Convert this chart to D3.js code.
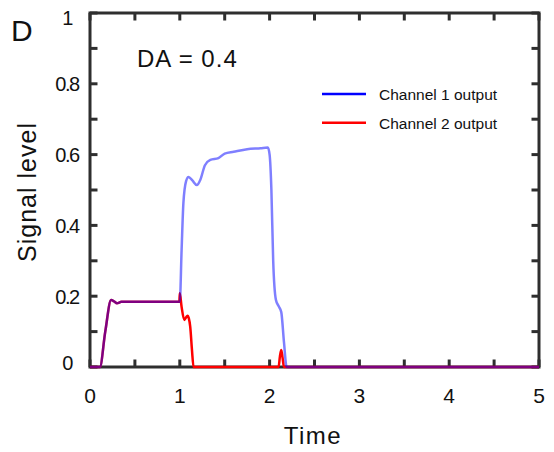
<!DOCTYPE html>
<html>
<head>
<meta charset="utf-8">
<script src="https://cdn.jsdelivr.net/npm/d3@7"></script>
<style>
  body { margin: 0; background: #fff; }
  text { font-family: "Liberation Sans", Arial, sans-serif; fill: #111; }
</style>
</head>
<body>
<div id="chart"></div>
<script>
// values
let ch1Time = [0, 0.11, 0.17, 0.235, 0.27, 0.3, 0.35, 0.5, 0.8, 1.0, 1.02, 1.04, 1.07, 1.097, 1.14, 1.19, 1.23, 1.28, 1.34, 1.43, 1.5, 1.6, 1.75, 1.9, 1.98, 2.0, 2.02, 2.04, 2.07, 2.1, 2.13, 2.16, 2.19, 2.5, 3, 4, 5];
let ch1Value = [0, 0, 0.1, 0.189, 0.185, 0.18, 0.184, 0.184, 0.184, 0.184, 0.33, 0.463, 0.525, 0.537, 0.527, 0.514, 0.53, 0.57, 0.585, 0.59, 0.603, 0.608, 0.615, 0.618, 0.62, 0.6, 0.5, 0.3, 0.19, 0.172, 0.155, 0.07, 0, 0, 0, 0, 0];
let ch2Time = [0, 0.11, 0.17, 0.235, 0.27, 0.3, 0.35, 0.5, 0.8, 0.995, 1.0, 1.02, 1.05, 1.07, 1.086, 1.1, 1.116, 1.135, 1.153, 1.5, 2.1, 2.115, 2.13, 2.145, 2.16, 2.5, 3, 4, 5];
let ch2Value = [0, 0, 0.1, 0.189, 0.185, 0.18, 0.184, 0.184, 0.184, 0.184, 0.208, 0.17, 0.133, 0.14, 0.145, 0.138, 0.114, 0.05, 0, 0, 0, 0.03, 0.048, 0.025, 0, 0, 0, 0, 0];
let xTicks = [0, 1, 2, 3, 4, 5];
let xMinor = [0, 0.5, 1, 1.5, 2, 2.5, 3, 3.5, 4, 4.5, 5];
let yTicks = [0, 0.2, 0.4, 0.6, 0.8, 1];
let yMinor = [0, 0.1, 0.2, 0.3, 0.4, 0.5, 0.6, 0.7, 0.8, 0.9, 1];
let seriesNames = ["Channel 1 output", "Channel 2 output"];

let margin = { top: 13, left: 90 },
    w = 449,
    h = 354;

let svg = d3.select("#chart")
    .append("svg")
    .attr("width", 554)
    .attr("height", 452);

let g = svg.append("g")
    .attr("transform", "translate(" + margin.left + "," + margin.top + ")");

let x = d3.scaleLinear().domain([0, 5]).range([0, w]);
let y = d3.scaleLinear().domain([0, 1]).range([h, 0]);

// inward ticks on all four sides
let tickLen = 7.5;
let axisColor = "#2e2e2e";
let tickG = g.append("g");
function ticks(cls, data, x1, x2, y1, y2) {
    tickG.selectAll("line." + cls).data(data).enter().append("line")
        .attr("class", cls)
        .attr("x1", x1).attr("x2", x2)
        .attr("y1", y1).attr("y2", y2)
        .style("stroke", axisColor)
        .style("stroke-width", "3px");
}
ticks("xb", xMinor, d => x(d), d => x(d), h, h - tickLen);
ticks("xt", xMinor, d => x(d), d => x(d), 0, tickLen);
ticks("yl", yMinor, 0, tickLen, d => y(d), d => y(d));
ticks("yr", yMinor, w, w - tickLen, d => y(d), d => y(d));

g.append("rect")
    .attr("x", 0).attr("y", 0)
    .attr("width", w).attr("height", h)
    .attr("fill", "none")
    .attr("stroke", axisColor)
    .attr("stroke-width", 3);

// tick labels
g.selectAll(".xl").data(xTicks).enter().append("text")
    .attr("x", d => x(d))
    .attr("y", h + 36)
    .attr("text-anchor", "middle")
    .style("font-size", "21px")
    .text(d => d);
g.selectAll(".ylab").data(yTicks).enter().append("text")
    .attr("x", -23)
    .attr("y", d => y(d) + (d === 0 ? 2.5 : d === 1 ? 12 : 7.5))
    .attr("text-anchor", "middle")
    .style("font-size", "20px")
    .style("letter-spacing", "-1.5px")
    .text(d => d);

// lines
let line = d3.line()
    .x(d => x(d[0]))
    .y(d => y(d[1]))
    .curve(d3.curveMonotoneX);

g.append("path")
    .datum(d3.zip(ch2Time, ch2Value))
    .attr("d", line)
    .attr("fill", "none")
    .attr("stroke", "#ff0000")
    .attr("stroke-width", 2.5);

g.append("path")
    .datum(d3.zip(ch1Time, ch1Value))
    .attr("d", line)
    .attr("fill", "none")
    .attr("stroke", "#0000ff")
    .attr("stroke-opacity", 0.5)
    .attr("stroke-width", 2.5);

// titles
svg.append("text")
    .attr("x", 313).attr("y", 444)
    .attr("text-anchor", "middle")
    .style("font-size", "24px")
    .style("letter-spacing", "1.5px")
    .text("Time");

svg.append("text")
    .attr("transform", "translate(36,192) rotate(-90)")
    .attr("text-anchor", "middle")
    .style("font-size", "25px")
    .style("letter-spacing", "1px")
    .text("Signal level");

svg.append("text")
    .attr("x", 11).attr("y", 41)
    .style("font-size", "30px")
    .text("D");

svg.append("text")
    .attr("x", 137).attr("y", 67)
    .style("font-size", "24px")
    .style("letter-spacing", "1px")
    .text("DA = 0.4");

// legend
let legendColors = ["#0000ff", "#ff0000"];
let legend = svg.selectAll(".leg").data(seriesNames).enter().append("g")
    .attr("transform", (d, i) => "translate(322," + (94 + i * 28.7) + ")");
legend.append("line")
    .attr("x1", 0).attr("x2", 44)
    .attr("stroke", (d, i) => legendColors[i])
    .attr("stroke-width", 2.5);
legend.append("text")
    .attr("x", 57).attr("y", 6)
    .style("font-size", "15.5px")
    .text(d => d);
</script>
</body>
</html>
